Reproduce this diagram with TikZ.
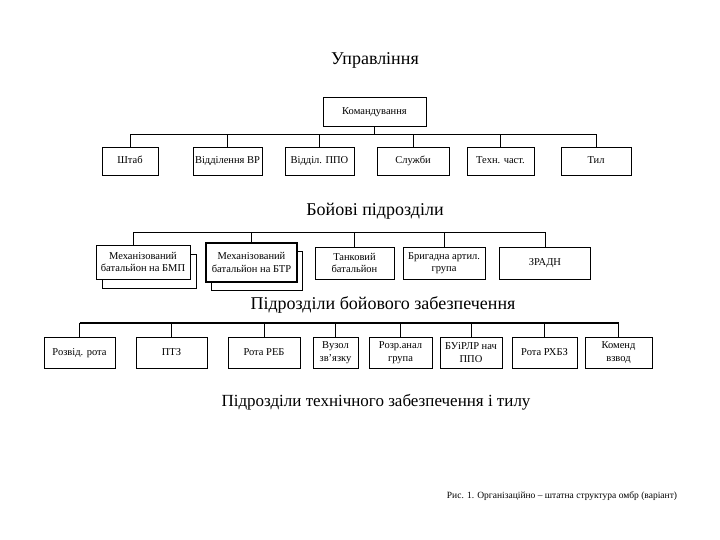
\documentclass[tikz,border=0pt]{standalone}
\usepackage{fontspec}
\setmainfont{Liberation Serif}
\usetikzlibrary{positioning}

\begin{document}
\begin{tikzpicture}[x=1pt, y=-1pt,
  head/.style={font=\fontsize{18}{20}\selectfont},
  unit/.style={draw=black, line width=0.8pt, fill=white, inner sep=0.5pt,
               align=center, font=\fontsize{10.5}{12.5}\selectfont},
  one/.style={text height=1.55ex, text depth=0.45ex},
  rowa/.style={unit, one, minimum height=28pt},
  rowb/.style={unit, minimum height=32pt},
  rowc/.style={unit, minimum height=31pt},
  link/.style={line width=0.8pt},
  thicklink/.style={line width=1.2pt}
]
  \useasboundingbox (0,0) rectangle (720,540);

  % Управління
  \node[head] (t1) at (375,60) {Управління};
  \node[unit, one, minimum width=103pt, minimum height=29pt] (cmd) at (374.5,111.5) {Командування};
  \node[rowa, minimum width=56pt] (shtab) at (130,161) {Штаб};
  \node[rowa, minimum width=69pt] (vr) at (227.5,161) {Відділення ВР};
  \node[rowa, minimum width=69pt] (ppo) at (319.5,161) {Відділ. ППО};
  \node[rowa, minimum width=72pt] (sluzh) at (413,161) {Служби};
  \node[rowa, minimum width=67pt] (tekh) at (500.5,161) {Техн. част.};
  \node[rowa, minimum width=70pt] (tyl) at (596,161) {Тил};
  \coordinate (bus1) at (0,134);
  \draw[link] (cmd.south) -- (cmd.south |- bus1);
  \draw[link] (shtab.north |- bus1) -- (tyl.north |- bus1);
  \foreach \n in {shtab,vr,ppo,sluzh,tekh,tyl}
    \draw[link] (\n.north) -- (\n.north |- bus1);

  % Бойові підрозділи
  \node[head] (t2) at (375,211) {Бойові підрозділи};
  \node[unit, minimum width=94pt, minimum height=34pt] (bmpb) at (149,271) {};
  \node[unit, minimum width=94pt, minimum height=34pt] (bmp) at (143,262)
    {Механізований\\батальйон на БМП};
  \node[unit, minimum width=91pt, minimum height=39pt] (btrb) at (256.5,270.5) {};
  \node[unit, line width=1.2pt, minimum width=91pt, minimum height=39pt] (btr) at (251.5,262.5)
    {Механізований\\батальйон на БТР};
  \node[rowb, minimum width=79pt] (tank) at (354.5,263) {Танковий\\батальйон};
  \node[rowb, minimum width=82pt] (art) at (444,263) {Бригадна артил.\\група};
  \node[rowb, one, minimum width=91pt] (zradn) at (545,263) {ЗРАДН};
  \coordinate (bus2) at (133,232);
  \draw[link] (bus2) -- (zradn.north |- bus2);
  \draw[link] (bus2) -- (bus2 |- bmp.north);
  \foreach \n in {btr,tank,art,zradn}
    \draw[link] (\n.north) -- (\n.north |- bus2);

  % Підрозділи бойового забезпечення
  \node[head] (t3) at (383,305) {Підрозділи бойового забезпечення};
  \node[rowc, one, minimum width=71pt] (rozv) at (79.5,352.5) {Розвід. рота};
  \node[rowc, one, minimum width=71pt] (ptz) at (171.5,352.5) {ПТЗ};
  \node[rowc, one, minimum width=72pt] (reb) at (264,352.5) {Рота РЕБ};
  \node[rowc, minimum width=45pt] (vuzol) at (335.5,352.5) {Вузол\\зв’язку};
  \node[rowc, minimum width=63pt] (rozr) at (400.5,352.5) {Розр.анал\\група};
  \node[rowc, minimum width=62pt] (burlr) at (471,352.5) {БУіРЛР нач\\ППО};
  \node[rowc, one, minimum width=65pt] (rhbz) at (544.5,352.5) {Рота РХБЗ};
  \node[rowc, minimum width=67pt] (komend) at (618.5,352.5) {Коменд\\взвод};
  \coordinate (bus3) at (0,323);
  \draw[thicklink] (rozv.north |- bus3) -- (komend.north |- bus3);
  \foreach \n in {rozv,ptz,reb,vuzol,rozr,burlr,rhbz,komend}
    \draw[link] (\n.north) -- (\n.north |- bus3);

  % Підрозділи технічного забезпечення і тилу
  \node[head, font=\fontsize{17}{20}\selectfont] (t4) at (376,402)
    {Підрозділи технічного забезпечення і тилу};

  \node[font=\fontsize{9.5}{11}\selectfont] (cap) at (562,496)
    {Рис. 1. Організаційно – штатна структура омбр (варіант)};
\end{tikzpicture}
\end{document}
